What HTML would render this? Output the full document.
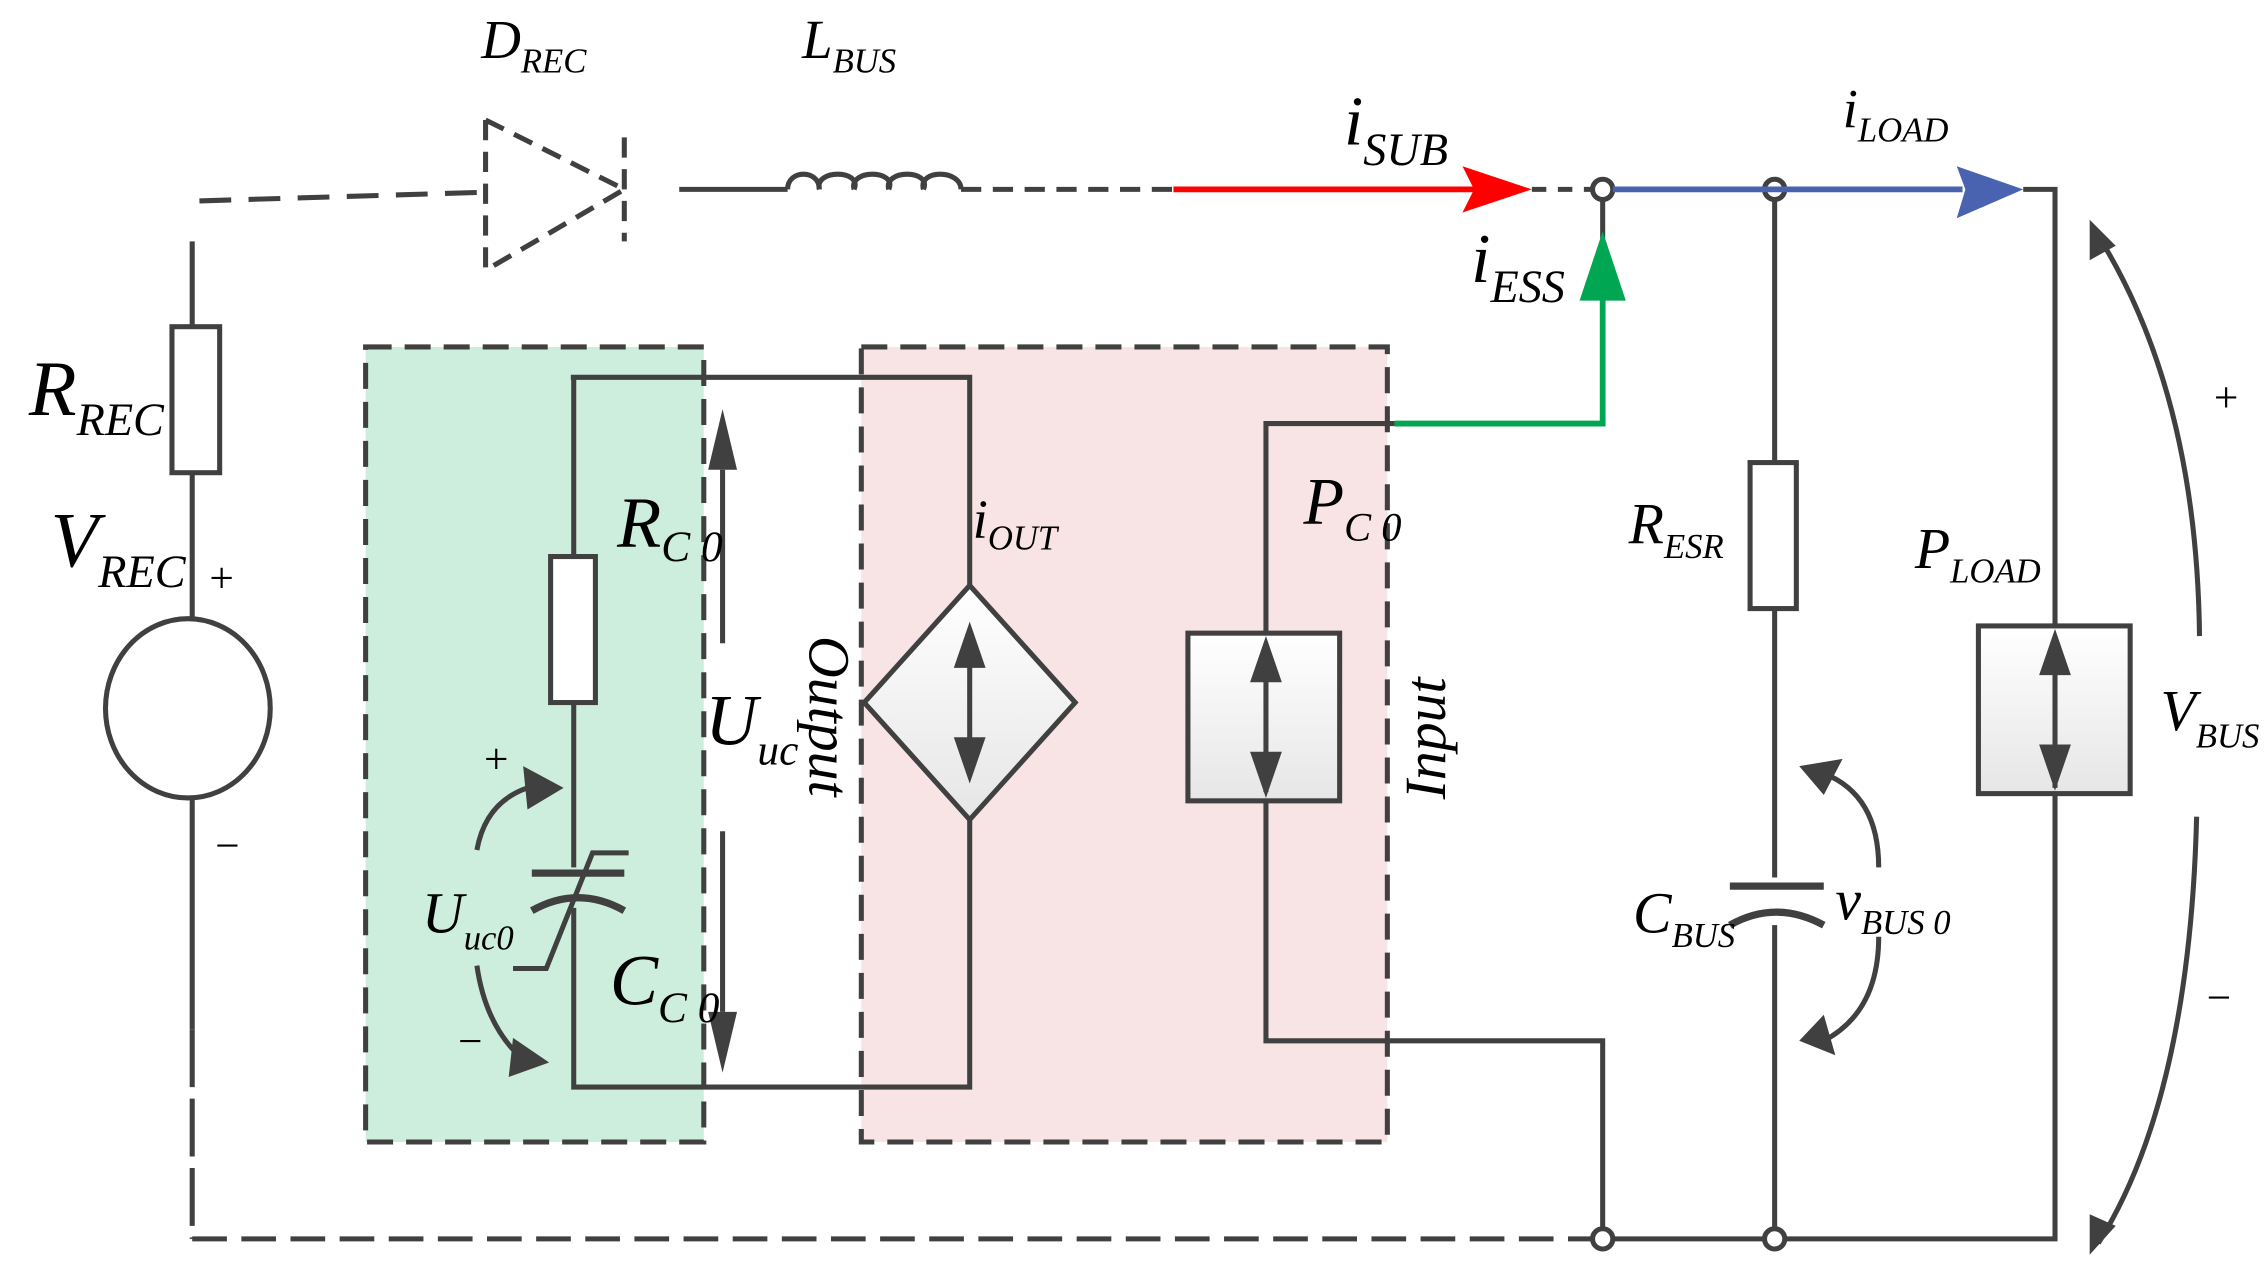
<!DOCTYPE html>
<html><head><style>
html,body{margin:0;padding:0;background:#fff;}
svg{display:block;}
text{font-family:"Liberation Serif",serif;font-style:italic;fill:#000;}
</style></head><body>
<svg width="2266" height="1288" viewBox="0 0 1568 891" preserveAspectRatio="none" xmlns="http://www.w3.org/2000/svg">
<defs>
<linearGradient id="g" x1="0" y1="0" x2="0" y2="1"><stop offset="0" stop-color="#fff"/><stop offset="1" stop-color="#e6e6e6"/></linearGradient>
</defs>
<rect x="253" y="240" width="234" height="550" fill="#cdeedc"/>
<rect x="596" y="240" width="364" height="550" fill="#f8e4e4"/>
<g fill="none" stroke="#404040" stroke-width="3.5">
<rect x="253" y="240" width="234" height="550" stroke-dasharray="18,9"/>
<rect x="596" y="240" width="364" height="550" stroke-dasharray="18,9"/>
<path d="M138 139 L335 133" stroke-dasharray="22,12"/>
<path d="M336 83 V187 M336 83 L432 131 L336 187 M432 95 V167" stroke-dasharray="14,8"/>
<path d="M470 131 H545"/>
<path d="M545 131 c0-14 22-14 22 0 M567 131 c-4-14 30-14 24 0 M591 131 c-4-14 30-14 24 0 M615 131 c-4-14 30-14 24 0 M639 131 c-4-14 26-14 26 0"/>
<path d="M665 131 H812" stroke-dasharray="14,8"/>
<path d="M1060 131 H1102" stroke-dasharray="10,8"/>
<path d="M1400 131 H1422 V857 H1116"/>
<path d="M133 857 H1102" stroke-dasharray="24,10"/>
<path d="M133 167 V226 M133 327 V428 M133 552 V712"/>
<path d="M133 712 V857" stroke-dasharray="40,8"/>
<rect x="119" y="226" width="33" height="101" fill="#fff"/>
<ellipse cx="130" cy="490" rx="57" ry="62"/>
<path d="M395 261 H671 V405 M671 567 V752 H397 V628 M397 600 V486 M397 385 V261"/>
<rect x="381" y="385" width="31" height="101" fill="#fff"/>
<path d="M368 604 H432" stroke-width="5"/>
<path d="M368 630 Q400 612 432 630" stroke-width="5"/>
<path d="M355 670 H378 L410 590 H435"/>
<path d="M330 588 Q336 555 365 545"/>
<path d="M330 668 Q336 710 362 733"/>
<path d="M500 325 V445 M500 575 V700"/>
<polygon points="671,405 744,486 671,567 598,486" fill="url(#g)"/>
<path d="M671 440 V530"/>
<path d="M965 293 H876 V438 M876 554 V720 H1109 V850"/>
<rect x="822" y="438" width="105" height="116" fill="url(#g)"/>
<path d="M876 445 V548"/>
<path d="M1109 138 V165"/>
<path d="M1228 138 V320 M1228 421 V607 M1228 640 V850"/>
<rect x="1211" y="320" width="32" height="101" fill="#fff"/>
<path d="M1197 613 H1262" stroke-width="5"/>
<path d="M1197 640 Q1229 622 1262 640" stroke-width="5"/>
<path d="M1300 600 Q1300 550 1262 535"/>
<path d="M1300 648 Q1300 700 1262 720"/>
<rect x="1369" y="433" width="105" height="116" fill="url(#g)"/>
<path d="M1422 440 V545"/>
<path d="M1450 160 Q1520 270 1522 440"/>
<path d="M1520 565 Q1515 760 1452 860"/>
<circle cx="1109" cy="131" r="7" fill="#fff"/>
<circle cx="1228" cy="131" r="7" fill="#fff"/>
<circle cx="1109" cy="857" r="7" fill="#fff"/>
<circle cx="1228" cy="857" r="7" fill="#fff"/>
</g>
<g fill="#404040">
<polygon points="500,283 490,325 510,325"/>
<polygon points="500,742 490,700 510,700"/>
<polygon points="671,430 660,462 682,462"/>
<polygon points="671,542 660,510 682,510"/>
<polygon points="876,440 865,472 887,472"/>
<polygon points="876,552 865,520 887,520"/>
<polygon points="1422,435 1411,467 1433,467"/>
<polygon points="1422,547 1411,515 1433,515"/>
<polygon points="390,545 362,530 365,560"/>
<polygon points="380,735 355,718 352,745"/>
<polygon points="1245,530 1275,525 1262,550"/>
<polygon points="1245,720 1262,702 1270,730"/>
<polygon points="1446,152 1446,180 1464,170"/>
<polygon points="1446,868 1446,840 1464,848"/>
</g>
<path d="M812 131 H1020" stroke="#f00" stroke-width="4"/>
<polygon points="1060,131 1012,115 1020,131 1012,147" fill="#f00"/>
<path d="M1116 131 H1358" stroke="#4a63b0" stroke-width="4"/>
<polygon points="1400,131 1354,115 1360,131 1354,151" fill="#4a63b0"/>
<path d="M965 293 H1109 V200" stroke="#00a651" stroke-width="4" fill="none"/>
<polygon points="1109,160 1093,208 1125,208" fill="#00a651"/>
<text x="333" y="40" font-size="38">D<tspan font-size="24" dy="10">REC</tspan></text>
<text x="555" y="40" font-size="38">L<tspan font-size="24" dy="10">BUS</tspan></text>
<text x="930" y="100" font-size="48">i<tspan font-size="32" dy="14">SUB</tspan></text>
<text x="1275" y="88" font-size="38">i<tspan font-size="24" dy="10">LOAD</tspan></text>
<text x="1018" y="195" font-size="48">i<tspan font-size="32" dy="14">ESS</tspan></text>
<text x="20" y="287" font-size="54">R<tspan font-size="32" dy="14">REC</tspan></text>
<text x="35" y="392" font-size="54">V<tspan font-size="32" dy="14">REC</tspan></text>
<text x="143" y="410" font-size="30" font-style="normal">+</text>
<text x="147" y="595" font-size="30" font-style="normal">−</text>
<text x="427" y="378" font-size="50">R<tspan font-size="30" dy="10">C 0</tspan></text>
<text x="673" y="372" font-size="38">i<tspan font-size="24" dy="8">OUT</tspan></text>
<text x="902" y="362" font-size="46">P<tspan font-size="28" dy="12">C 0</tspan></text>
<text x="1127" y="376" font-size="40">R<tspan font-size="24" dy="10">ESR</tspan></text>
<text x="1325" y="393" font-size="40">P<tspan font-size="24" dy="10">LOAD</tspan></text>
<text x="488" y="515" font-size="50">U<tspan font-size="30" dy="14">uc</tspan></text>
<text x="1495" y="505" font-size="40">V<tspan font-size="24" dy="12">BUS</tspan></text>
<text x="1530" y="285" font-size="30" font-style="normal">+</text>
<text x="1525" y="700" font-size="30" font-style="normal">−</text>
<text x="333" y="535" font-size="30" font-style="normal">+</text>
<text x="315" y="730" font-size="30" font-style="normal">−</text>
<text x="292" y="645" font-size="40">U<tspan font-size="24" dy="12">uc0</tspan></text>
<text x="422" y="695" font-size="50">C<tspan font-size="30" dy="12">C 0</tspan></text>
<text x="1130" y="645" font-size="40">C<tspan font-size="24" dy="10">BUS</tspan></text>
<text x="1270" y="636" font-size="40">v<tspan font-size="24" dy="10">BUS 0</tspan></text>
<text transform="translate(560,440) rotate(90)" font-size="40">Output</text>
<text transform="translate(1000,553) rotate(-90)" font-size="40">Input</text>
</svg>
</body></html>
